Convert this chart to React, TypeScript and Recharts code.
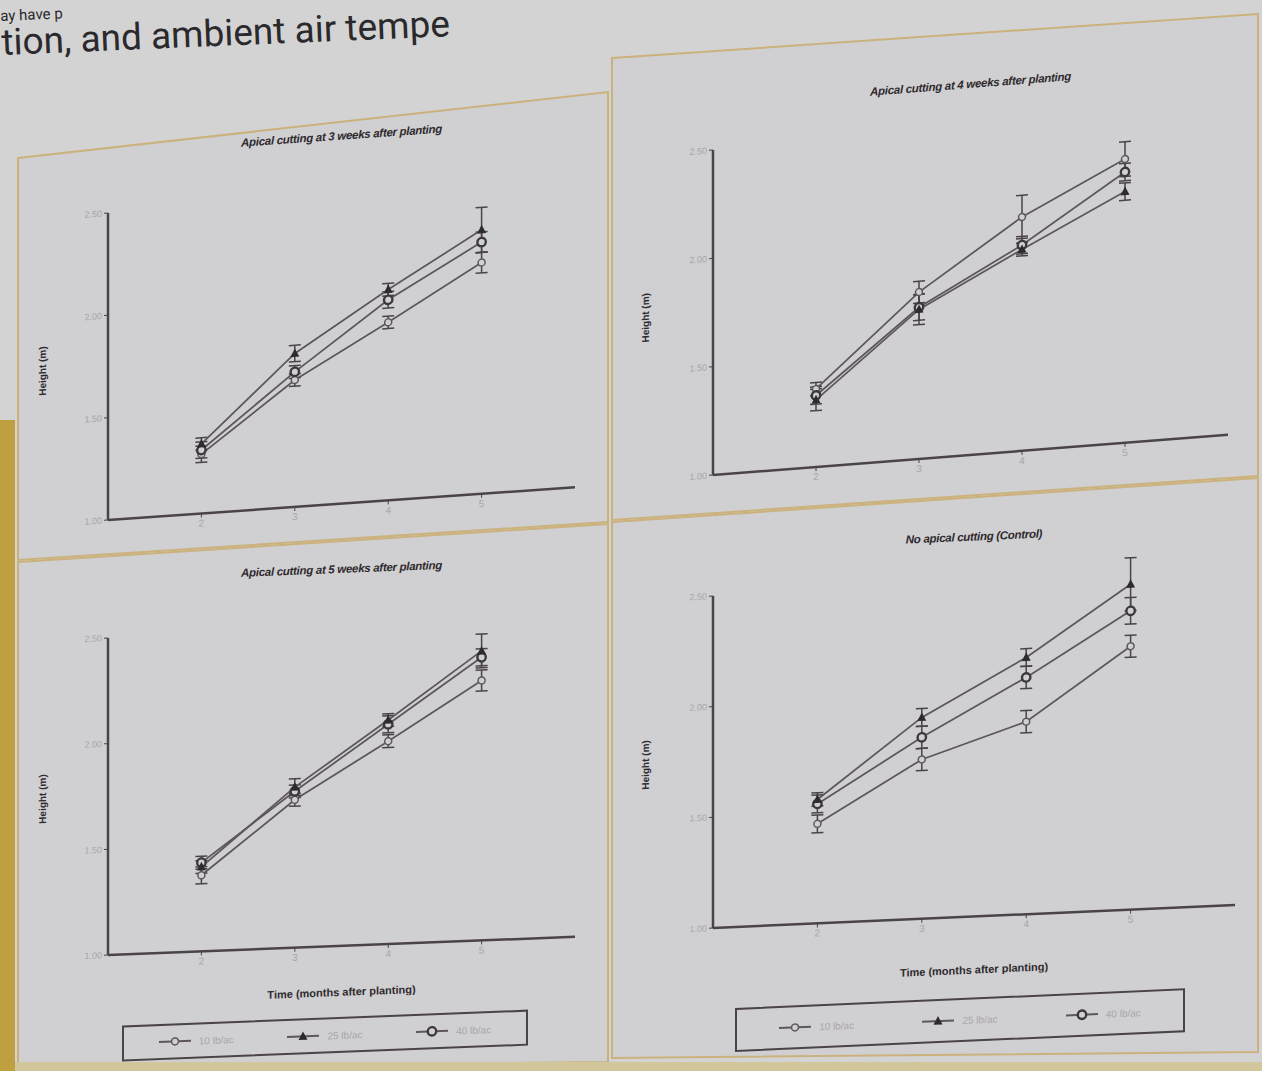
import { LineChart, Line, XAxis, YAxis, ErrorBar } from 'recharts';

// months after planting
const MONTHS = [2, 3, 4, 5];
const Y_TICKS = [1.0, 1.5, 2.0, 2.5];
const X_TICKS = [2, 3, 4, 5];
const RATES = ['10 lb/ac', '25 lb/ac', '40 lb/ac'];

// Apical cutting at 3 weeks after planting
const cut3_10 = [1.29, 1.62, 1.87, 2.13];
const cut3_25 = [1.34, 1.75, 2.03, 2.29];
const cut3_40 = [1.31, 1.66, 1.98, 2.23];
const cut3_e10 = [0.04, 0.03, 0.03, 0.05];
const cut3_e25 = [0.03, 0.04, 0.03, 0.11];
const cut3_e40 = [0.04, 0.03, 0.04, 0.05];

// Apical cutting at 4 weeks after planting
const cut4_10 = [1.36, 1.77, 2.08, 2.31];
const cut4_25 = [1.31, 1.69, 1.93, 2.16];
const cut4_40 = [1.33, 1.70, 1.95, 2.25];
const cut4_e10 = [0.03, 0.05, 0.10, 0.08];
const cut4_e25 = [0.05, 0.07, 0.03, 0.04];
const cut4_e40 = [0.04, 0.06, 0.04, 0.04];

// Apical cutting at 5 weeks after planting
const cut5_10 = [1.36, 1.70, 1.96, 2.23];
const cut5_25 = [1.40, 1.76, 2.06, 2.37];
const cut5_40 = [1.42, 1.74, 2.04, 2.34];
const cut5_e10 = [0.04, 0.03, 0.03, 0.05];
const cut5_e25 = [0.03, 0.04, 0.03, 0.08];
const cut5_e40 = [0.03, 0.03, 0.04, 0.04];

// No apical cutting (Control)
const ctrl_10 = [1.45, 1.72, 1.87, 2.19];
const ctrl_25 = [1.56, 1.91, 2.16, 2.47];
const ctrl_40 = [1.54, 1.82, 2.07, 2.35];
const ctrl_e10 = [0.04, 0.05, 0.05, 0.05];
const ctrl_e25 = [0.03, 0.04, 0.04, 0.12];
const ctrl_e40 = [0.04, 0.05, 0.05, 0.06];

const INK = '#5d565b';
const AXIS = '#4a4348';
const FAINT = '#a9a5aa';
const PANEL = '#d0cfd2';
const TAN = '#cbb27c';

const rows = (a: number[], b: number[], c: number[], ea: number[], eb: number[], ec: number[]) =>
  MONTHS.map((m, i) => ({ month: m, r10: a[i], r25: b[i], r40: c[i], e10: ea[i], e25: eb[i], e40: ec[i] }));

const OpenCircle = (p: any) =>
  p.cx == null ? null : <circle key={`o${p.index}`} cx={p.cx} cy={p.cy} r={3.5} fill={PANEL} stroke={INK} strokeWidth={1.5} />;

const Triangle = (p: any) =>
  p.cx == null ? null : (
    <path key={`t${p.index}`} d={`M${p.cx},${p.cy - 5} L${p.cx + 4.5},${p.cy + 3.5} L${p.cx - 4.5},${p.cy + 3.5} Z`} fill="#2f2a2e" />
  );

const ThickCircle = (p: any) =>
  p.cx == null ? null : <circle key={`c${p.index}`} cx={p.cx} cy={p.cy} r={4.2} fill={PANEL} stroke="#3e383c" strokeWidth={2.4} />;

const LegendBox = ({ x, y, w, h }: any) => {
  const marks = [
    <circle cx={16} cy={7} r={3.5} fill={PANEL} stroke={INK} strokeWidth={1.5} />,
    <path d="M16,2 L20.5,10.5 L11.5,10.5 Z" fill="#2f2a2e" />,
    <circle cx={16} cy={7} r={4.2} fill={PANEL} stroke="#3e383c" strokeWidth={2.4} />,
  ];
  return (
    <div style={{
      position: 'absolute', left: x, top: y, width: w, height: h, boxSizing: 'border-box',
      border: `2.5px solid ${AXIS}`, display: 'flex', alignItems: 'center', justifyContent: 'space-around',
      padding: '0 8px',
    }}>
      {RATES.map((r, i) => (
        <div key={r} style={{ display: 'flex', alignItems: 'center', gap: 8 }}>
          <svg width={32} height={14}>
            <line x1={0} y1={7} x2={32} y2={7} stroke={INK} strokeWidth={2} />
            {marks[i]}
          </svg>
          <span style={{ fontSize: 10, color: FAINT, fontFamily: 'Liberation Sans, sans-serif' }}>{r}</span>
        </div>
      ))}
    </div>
  );
};

const Panel = ({ cfg }: any) => {
  const xAxisH = cfg.xLabel ? cfg.xLabelGap : 30;
  const chartH = cfg.plotBottom + xAxisH + 2;
  return (
    <div style={{
      position: 'absolute', left: cfg.left, top: cfg.top, width: cfg.width, height: cfg.height,
      transform: `skewY(${Math.atan(cfg.tan)}rad)`, transformOrigin: `${cfg.axisX}px 0px`,
    }}>
      <div style={{
        position: 'absolute', left: cfg.axisX, width: cfg.plotRight - cfg.axisX, top: cfg.titleY,
        textAlign: 'center', fontFamily: 'Liberation Sans, sans-serif', fontStyle: 'italic',
        fontWeight: 700, fontSize: 11.5, color: '#2e2a2d', letterSpacing: -0.3,
      }}>
        {cfg.title}
      </div>
      <LineChart
        width={cfg.width}
        height={chartH}
        data={cfg.data}
        margin={{ top: cfg.plotTop, right: cfg.width - cfg.plotRight, left: 0, bottom: 2 }}
        style={{ position: 'absolute', left: 0, top: 0, overflow: 'visible' }}
      >
        <XAxis
          dataKey="month" type="number" domain={[1, 6]} ticks={X_TICKS} height={xAxisH}
          stroke={AXIS} tickSize={4} axisLine={{ stroke: AXIS, strokeWidth: 2.5 }}
          tick={{ fill: FAINT, fontSize: 10, fontFamily: 'Liberation Sans, sans-serif' }}
          label={cfg.xLabel ? {
            value: 'Time (months after planting)', position: 'insideBottom', offset: 0,
            style: { fill: '#2e2a2d', fontSize: 11, fontWeight: 700, fontFamily: 'Liberation Sans, sans-serif' },
          } : undefined}
        />
        <YAxis
          type="number" domain={[1, 2.5]} ticks={Y_TICKS} width={cfg.axisX} allowDataOverflow
          tickFormatter={(v: number) => v.toFixed(2)} stroke={AXIS} tickSize={4}
          axisLine={{ stroke: AXIS, strokeWidth: 2.5 }}
          tick={{ fill: FAINT, fontSize: 9, fontFamily: 'Liberation Sans, sans-serif' }}
          label={{
            value: 'Height (m)', angle: -90, position: 'insideLeft', offset: cfg.yLabelX,
            style: { textAnchor: 'middle', fill: '#2e2a2d', fontSize: 10, fontWeight: 700, fontFamily: 'Liberation Sans, sans-serif' },
          }}
        />
        <Line dataKey="r10" name={RATES[0]} stroke={INK} strokeWidth={1.8} dot={OpenCircle} isAnimationActive={false}>
          <ErrorBar dataKey="e10" width={6} stroke={AXIS} strokeWidth={1.5} direction="y" />
        </Line>
        <Line dataKey="r40" name={RATES[2]} stroke={INK} strokeWidth={1.8} dot={ThickCircle} isAnimationActive={false}>
          <ErrorBar dataKey="e40" width={6} stroke={AXIS} strokeWidth={1.5} direction="y" />
        </Line>
        <Line dataKey="r25" name={RATES[1]} stroke={INK} strokeWidth={1.8} dot={Triangle} isAnimationActive={false}>
          <ErrorBar dataKey="e25" width={6} stroke={AXIS} strokeWidth={1.5} direction="y" />
        </Line>
      </LineChart>
      {cfg.legend && <LegendBox {...cfg.legend} />}
    </div>
  );
};

const PANELS = [
  {
    title: 'Apical cutting at 3 weeks after planting',
    data: rows(cut3_10, cut3_25, cut3_40, cut3_e10, cut3_e25, cut3_e40),
    left: 22, top: 100, width: 583, height: 460, tan: -0.07,
    axisX: 86, plotTop: 113, plotBottom: 420, plotRight: 553, titleY: 46, yLabelX: 20,
  },
  {
    title: 'Apical cutting at 4 weeks after planting',
    data: rows(cut4_10, cut4_25, cut4_40, cut4_e10, cut4_e25, cut4_e40),
    left: 612, top: 60, width: 640, height: 460, tan: -0.078,
    axisX: 101, plotTop: 90, plotBottom: 415, plotRight: 616, titleY: 38, yLabelX: 33,
  },
  {
    title: 'Apical cutting at 5 weeks after planting',
    data: rows(cut5_10, cut5_25, cut5_40, cut5_e10, cut5_e25, cut5_e40),
    left: 22, top: 560, width: 583, height: 510, tan: -0.039,
    axisX: 86, plotTop: 78, plotBottom: 395, plotRight: 553, titleY: 12, yLabelX: 20,
    xLabel: true, xLabelGap: 50,
    legend: { x: 100, y: 466, w: 406, h: 36 },
  },
  {
    title: 'No apical cutting (Control)',
    data: rows(ctrl_10, ctrl_25, ctrl_40, ctrl_e10, ctrl_e25, ctrl_e40),
    left: 612, top: 520, width: 640, height: 540, tan: -0.044,
    axisX: 101, plotTop: 76, plotBottom: 408, plotRight: 623, titleY: 22, yLabelX: 33,
    xLabel: true, xLabelGap: 57,
    legend: { x: 123, y: 489, w: 450, h: 44 },
  },
];

export default function App() {
  return (
    <div style={{
      position: 'fixed', left: 0, top: 0, width: 1262, height: 1071, overflow: 'hidden',
      background: '#d3d3d3', fontFamily: 'Liberation Sans, sans-serif',
    }}>
      {/* slide frame */}
      <svg width={1262} height={1071} style={{ position: 'absolute', left: 0, top: 0 }}>
        <rect x={0} y={0} width={1262} height={1071} fill="#d4d3d4" />
        <polygon points="18,158 608,92 608,522 18,560" fill={PANEL} stroke={TAN} strokeWidth={2} />
        <polygon points="612,58 1258,14 1258,476 612,520" fill={PANEL} stroke={TAN} strokeWidth={2} />
        <polygon points="18,562 608,524 608,1062 18,1068" fill={PANEL} stroke={TAN} strokeWidth={2} />
        <polygon points="612,522 1258,478 1258,1052 612,1058" fill={PANEL} stroke={TAN} strokeWidth={2} />
        <rect x={0} y={1062} width={1262} height={9} fill="#d2c79a" />
        <rect x={0} y={420} width={15} height={651} fill="#bfa040" />
      </svg>

      {/* slide text above the figure */}
      <div style={{
        position: 'absolute', left: 0, top: 9, color: '#2a292c', whiteSpace: 'nowrap',
        transform: 'rotate(-2.4deg)', transformOrigin: '0 0', fontFamily: 'Roboto, sans-serif',
      }}>
        <div style={{ fontSize: 15, lineHeight: '15px' }}>ay have p</div>
        <div style={{ fontSize: 37, lineHeight: '37px' }}>tion, and ambient air tempe</div>
      </div>

      {PANELS.map(p => <Panel key={p.title} cfg={p} />)}
    </div>
  );
}
